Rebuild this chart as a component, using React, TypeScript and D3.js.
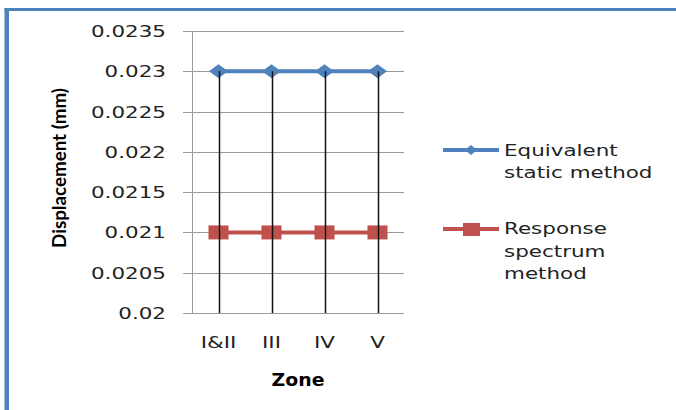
import React from "react";
import * as d3 from "d3";

const zones = ["I&II", "III", "IV", "V"];
const equivalentStatic = [0.023, 0.023, 0.023, 0.023];
const responseSpectrum = [0.021, 0.021, 0.021, 0.021];
const yTicks = [0.02, 0.0205, 0.021, 0.0215, 0.022, 0.0225, 0.023, 0.0235];
const yTickLabels = ["0.02", "0.0205", "0.021", "0.0215", "0.022", "0.0225", "0.023", "0.0235"];
const legendEquivalent = ["Equivalent", "static method"];
const legendResponse = ["Response", "spectrum", "method"];

const W = 676;
const H = 410;
const BLUE = "#4F81BD";
const RED = "#C0504D";
const GRID = "#9a9a9a";
const FONT = "'DejaVu Sans', sans-serif";
const SX = 1.3;

export default function App() {
  const x = d3.scaleBand<string>().domain(zones).range([192, 404]);
  const y = d3.scaleLinear().domain([0.02, 0.0235]).range([313, 31]);
  const cx = (z: string) => (x(z) as number) + x.bandwidth() / 2;

  const line = d3
    .line<number>()
    .x((_, i) => cx(zones[i]))
    .y((d) => y(d));

  const diamond = (px: number, py: number, w: number, h: number) =>
    `M${px - w / 2},${py} L${px},${py - h / 2} L${px + w / 2},${py} L${px},${py + h / 2} Z`;

  return (
    <svg
      width={W}
      height={H}
      style={{ position: "absolute", left: 0, top: 0, background: "#fff" }}
    >
      <rect x={0} y={0} width={W} height={H} fill="#fff" />
      {/* frame */}
      <rect x={4.5} y={8} width={4.5} height={H - 8} fill={BLUE} />
      <rect x={4.5} y={8} width={W - 4.5} height={3} fill={BLUE} />

      {/* gridlines */}
      {yTicks.map((t) => (
        <line
          key={"g" + t}
          x1={183}
          x2={404}
          y1={Math.round(y(t)) + 0.5}
          y2={Math.round(y(t)) + 0.5}
          stroke={GRID}
          strokeWidth={1}
        />
      ))}
      <line x1={192.5} x2={192.5} y1={31} y2={313} stroke={GRID} strokeWidth={1} />

      {/* y tick labels */}
      {yTicks.map((t, i) => (
        <g key={"yl" + t} transform={`translate(166, ${y(t) + 6}) scale(${SX},1)`}>
          <text textAnchor="end" fontFamily={FONT} fontSize={16.5} fill="#222">
            {yTickLabels[i]}
          </text>
        </g>
      ))}

      {/* x tick labels */}
      {zones.map((z) => (
        <g key={"xl" + z} transform={`translate(${cx(z)}, 348) scale(${SX},1)`}>
          <text textAnchor="middle" fontFamily={FONT} fontSize={16.5} fill="#222">
            {z}
          </text>
        </g>
      ))}

      {/* axis titles */}
      <g transform={`translate(${(192 + 404) / 2}, 386) scale(1.08,1)`}>
        <text textAnchor="middle" fontFamily={FONT} fontWeight="bold" fontSize={17.5} fill="#000">
          Zone
        </text>
      </g>
      <text
        transform={`translate(66, 168) rotate(-90)`}
        textAnchor="middle"
        fontFamily="Lato, sans-serif"
        fontWeight="bold"
        fontSize={18}
        textLength={160}
        lengthAdjust="spacingAndGlyphs"
        fill="#000"
      >
        Displacement (mm)
      </text>

      {/* series lines */}
      <path d={line(equivalentStatic) || ""} fill="none" stroke={BLUE} strokeWidth={4} />
      <path d={line(responseSpectrum) || ""} fill="none" stroke={RED} strokeWidth={4} />

      {/* markers */}
      {equivalentStatic.map((v, i) => (
        <path key={"d" + i} d={diamond(cx(zones[i]), y(v), 19, 14)} fill={BLUE} />
      ))}
      {responseSpectrum.map((v, i) => (
        <rect
          key={"s" + i}
          x={cx(zones[i]) - 10}
          y={y(v) - 7}
          width={20}
          height={14}
          fill={RED}
        />
      ))}

      {/* drop lines */}
      {zones.map((z, i) => (
        <line
          key={"dl" + z}
          x1={Math.round(cx(z)) + 0.5}
          x2={Math.round(cx(z)) + 0.5}
          y1={y(Math.max(equivalentStatic[i], responseSpectrum[i]))}
          y2={y(0.02)}
          stroke="#111"
          strokeWidth={1.5}
        />
      ))}

      {/* legend */}
      <line x1={443} x2={499} y1={150} y2={150} stroke={BLUE} strokeWidth={4} />
      <path d={diamond(471, 150, 12, 10)} fill={BLUE} />
      {legendEquivalent.map((s, i) => (
        <g key={"le" + i} transform={`translate(504, ${156 + i * 22}) scale(${SX},1)`}>
          <text fontFamily={FONT} fontSize={16.5} fill="#222">
            {s}
          </text>
        </g>
      ))}
      <line x1={443} x2={499} y1={229} y2={229} stroke={RED} strokeWidth={4} />
      <rect x={463} y={223} width={17} height={13} fill={RED} />
      {legendResponse.map((s, i) => (
        <g key={"lr" + i} transform={`translate(504, ${234 + i * 22.5}) scale(${SX},1)`}>
          <text fontFamily={FONT} fontSize={16.5} fill="#222">
            {s}
          </text>
        </g>
      ))}
    </svg>
  );
}
